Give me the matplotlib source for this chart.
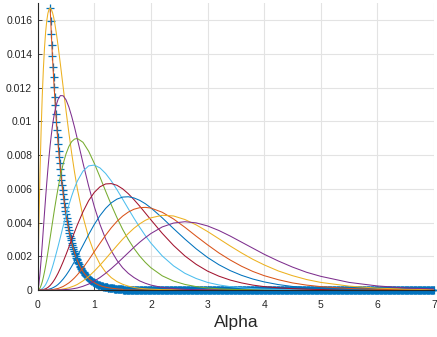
import numpy as np
import matplotlib
matplotlib.use('Agg')
import matplotlib.pyplot as plt

# values, in units of 1e-5
SCALE = 1e-5

alpha = [0.01, 0.02, 0.04, 0.06, 0.08, 0.1, 0.12, 0.14, 0.16, 0.18, 0.2, 0.22,
         0.24, 0.26, 0.28, 0.3, 0.33, 0.36, 0.4, 0.45, 0.5, 0.55, 0.6, 0.65,
         0.7, 0.8, 0.9, 1.0, 1.1, 1.2, 1.3, 1.4, 1.5, 1.6, 1.7, 1.8, 1.9, 2.0,
         2.2, 2.4, 2.6, 2.8, 3.0, 3.2, 3.4, 3.6, 3.8, 4.0, 4.25, 4.5, 4.75,
         5.0, 5.5, 6.0, 6.5, 7.0]

post1 = [197, 377, 689, 944, 1149, 1311, 1437, 1531, 1597, 1641, 1665, 1672, 1665, 1647,
         1620, 1585, 1521, 1448, 1341, 1202, 1064, 933, 811, 700, 600, 435, 311, 219,
         153, 106, 73, 50, 34, 23, 15, 10, 7, 5, 2, 1]
post2 = [10, 32, 97, 179, 270, 364, 458, 549, 636, 717, 791, 859, 919, 972,
         1017, 1056, 1100, 1131, 1153, 1152, 1128, 1086, 1030, 966, 896, 753, 616, 494,
         389, 302, 232, 176, 132, 99, 74, 54, 40, 29, 15, 8, 4, 2,
         1, 1]
post3 = [1, 2, 11, 27, 48, 76, 108, 143, 182, 224, 267, 311, 355, 399,
         443, 486, 547, 605, 674, 749, 807, 851, 880, 895, 899, 876, 823, 751,
         670, 586, 505, 429, 360, 300, 247, 202, 164, 132, 84, 53, 33, 20,
         12, 7, 4, 2, 1, 1]
post4 = [0, 0, 1, 4, 8, 14, 22, 32, 45, 60, 76, 95, 115, 136,
         159, 183, 221, 259, 312, 379, 443, 503, 557, 605, 646, 705, 736, 741,
         724, 691, 647, 595, 539, 482, 426, 373, 323, 278, 202, 143, 99, 68,
         45, 30, 20, 13, 8, 5, 3, 2, 1, 1]
post5 = [0, 0, 0, 1, 1, 3, 5, 7, 11, 15, 21, 27, 35, 43,
         53, 63, 81, 100, 129, 168, 210, 254, 299, 343, 386, 464, 530, 579,
         612, 629, 631, 621, 600, 571, 536, 498, 457, 416, 336, 264, 202, 152,
         112, 82, 59, 42, 29, 20, 13, 8, 5, 3, 1]
post6 = [0, 0, 0, 0, 0, 0, 1, 1, 2, 3, 5, 7, 9, 12,
         15, 19, 25, 33, 46, 65, 87, 112, 140, 169, 201, 265, 329, 389,
         441, 484, 517, 539, 551, 553, 546, 532, 512, 487, 428, 364, 302, 244,
         193, 150, 115, 87, 65, 48, 32, 21, 14, 9, 4, 1, 1]
post7 = [0, 0, 0, 0, 0, 0, 0, 0, 0, 1, 1, 1, 2, 3,
         3, 5, 7, 9, 14, 21, 31, 42, 56, 72, 90, 131, 178, 228,
         277, 325, 369, 407, 438, 462, 479, 488, 490, 486, 461, 421, 372, 319,
         268, 220, 178, 141, 110, 85, 61, 42, 29, 20, 9, 4, 2, 1]
post8 = [0, 0, 0, 0, 0, 0, 0, 0, 0, 0, 0, 0, 0, 0,
         1, 1, 1, 2, 3, 6, 9, 13, 19, 25, 33, 54, 80, 112,
         147, 185, 224, 263, 301, 335, 366, 392, 413, 428, 443, 439, 418, 386,
         347, 304, 261, 220, 182, 149, 113, 85, 62, 45, 23, 11, 5, 2]
post9 = [0, 0, 0, 0, 0, 0, 0, 0, 0, 0, 0, 0, 0, 0,
         0, 0, 0, 1, 1, 2, 3, 4, 6, 9, 12, 22, 35, 53,
         74, 99, 127, 157, 189, 221, 253, 283, 310, 335, 374, 397, 405, 398,
         380, 353, 320, 284, 248, 212, 172, 136, 105, 81, 45, 24, 12, 6]
posteriors = [post1, post2, post3, post4, post5, post6, post7, post8, post9]

# prior curve (the "+" series), one sample per 0.01 from where it enters the axes
prior_x = np.round(np.arange(0.22, 7.0001, 0.01), 2)
prior_y = [1671, 1595, 1521, 1451, 1385, 1321, 1261, 1203, 1147, 1095, 1045, 997, 951, 907,
           866, 826, 788, 752, 717, 684, 653, 623, 594, 567, 541, 516, 492, 470,
           448, 428, 408, 389, 371, 354, 338, 323, 308, 294, 280, 267, 255, 243,
           232, 221, 211, 202, 192, 184, 175, 167, 159, 152, 145, 138, 132, 126,
           120, 115, 109, 104, 100, 95, 91, 87, 83, 79, 75, 72, 68, 65,
           62, 59, 57, 54, 52, 49, 47, 45, 43,
           41, 39, 37, 36, 34, 32, 31, 29, 28, 27, 26, 24, 23, 22, 21, 20, 19, 18, 18, 17,
           16, 15, 15, 14, 13, 13, 12, 12, 11, 11, 10, 10, 9, 9, 8, 8, 8, 7, 7, 7,
           6, 6, 6, 5, 5, 5, 5, 5, 4, 4]
# past 1.5 the prior reads as zero
prior_y = prior_y + [0] * (len(prior_x) - len(prior_y))

px = prior_x
py = np.array(prior_y) * SCALE
xs = np.array(alpha)

cols = ['#0072BD', '#D95319', '#EDB120', '#7E2F8E', '#77AC30', '#4DBEEE', '#A2142F']

plt.rcParams['font.family'] = ['Liberation Sans', 'DejaVu Sans']
fig = plt.figure(figsize=(4.37, 3.37), dpi=100)
ax = fig.add_axes([0.0863, 0.1395, 0.9067, 0.8505])

ax.plot(px, py, '+', color=cols[0], ms=5.5, mew=0.9, clip_on=False, zorder=2)
ax.plot(px, py, '-', color=cols[1], lw=0.75, zorder=2)
for i, p in enumerate(posteriors):
    y = np.array(p + [0] * (len(xs) - len(p))) * SCALE
    ax.plot(xs, y, color=cols[(i + 2) % 7], lw=0.75, zorder=2)

ax.set_xlim(0, 7)
ax.set_ylim(0, 0.017)
ax.set_yticks(np.arange(0, 0.0161, 0.002))
ax.set_yticklabels(['0', '0.002', '0.004', '0.006', '0.008', '0.01', '0.012', '0.014', '0.016'])
ax.set_xticks(range(8))
ax.grid(True, color='#e3e3e3', lw=0.8)
ax.set_axisbelow(True)
for sp in ['top', 'right']:
    ax.spines[sp].set_visible(False)
for sp in ['left', 'bottom']:
    ax.spines[sp].set_color('#262626')
    ax.spines[sp].set_linewidth(0.8)
ax.tick_params(direction='in', length=3, width=0.6, colors='#262626', labelsize=7.5, pad=4)
ax.tick_params(axis='x', pad=7)
ax.set_xlabel('Alpha', fontsize=12.5, color='#262626', labelpad=4)
fig.savefig('out.png', dpi=100)
